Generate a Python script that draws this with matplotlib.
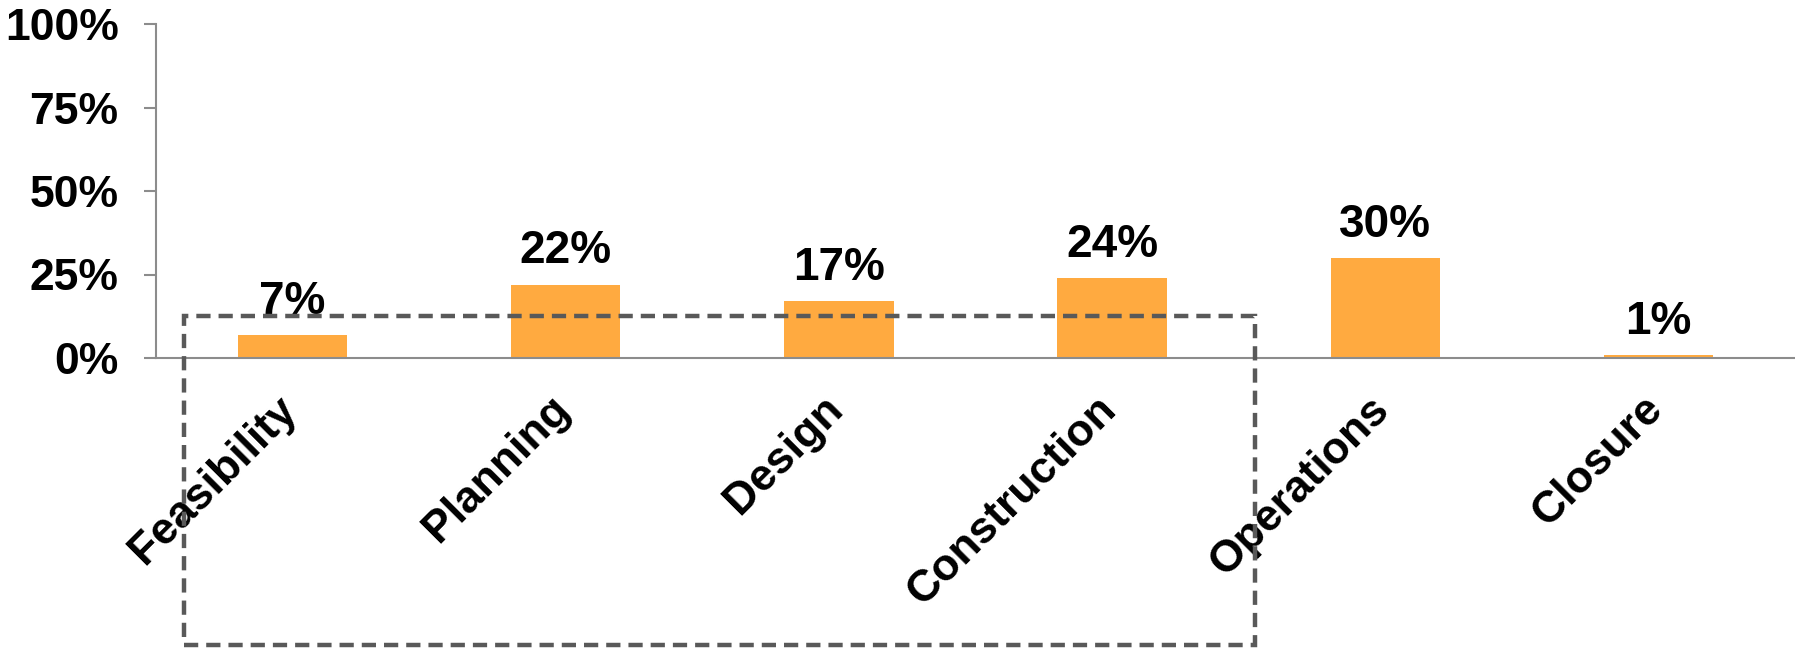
import matplotlib.pyplot as plt
from matplotlib.patches import Rectangle
from matplotlib.ticker import PercentFormatter
from matplotlib.transforms import ScaledTranslation

phases = ["Feasibility", "Planning", "Design", "Construction", "Operations", "Closure"]
shares = [7, 22, 17, 24, 30, 1]
yticks = [0, 25, 50, 75, 100]

plt.rcParams['font.family'] = ['Liberation Sans', 'DejaVu Sans']
plt.rcParams['font.weight'] = 'bold'

fig = plt.figure(figsize=(17.95, 6.5), dpi=100)
ax = fig.add_axes([156 / 1795, 1 - 358 / 650, 1 - 156 / 1795, (358 - 24) / 650])

x = range(len(phases))
ax.bar(x, shares, width=0.4, color='#FFAA40', zorder=2)

for xi, v in zip(x, shares):
    ax.annotate(f"{v}%", (xi, v), xytext=(0, 8), textcoords='offset points',
                ha='center', va='bottom', fontsize=33, fontweight='bold')

ax.set_xlim(-0.5, len(phases) - 0.5)
ax.set_ylim(0, 100)
ax.set_yticks(yticks)
ax.yaxis.set_major_formatter(PercentFormatter(decimals=0))
ax.set_xticks(list(x))
ax.set_xticklabels([])

# category labels, rotated, placed under each bar
shift = ScaledTranslation(-12 / 72, -22 / 72, fig.dpi_scale_trans)
for xi, name in zip(x, phases):
    ax.text(xi, 0, name, transform=ax.get_xaxis_transform() + shift,
            rotation=45, ha='right', va='top', rotation_mode='anchor',
            fontsize=32, fontweight='bold')

for side in ['top', 'right']:
    ax.spines[side].set_visible(False)
for side in ['left', 'bottom']:
    ax.spines[side].set_color('#8C8C8C')
    ax.spines[side].set_linewidth(1.5)
ax.tick_params(axis='y', length=9, width=1.5, color='#8C8C8C', pad=18, labelsize=32)
ax.tick_params(axis='x', length=0)

box = Rectangle((-0.398, -86), 3.923, 98.6, fill=False, edgecolor='#595959',
                linewidth=3.2, linestyle=(0, (3.2, 1.8)), clip_on=False, zorder=3)
ax.add_patch(box)

plt.savefig("out.png", dpi=100)
